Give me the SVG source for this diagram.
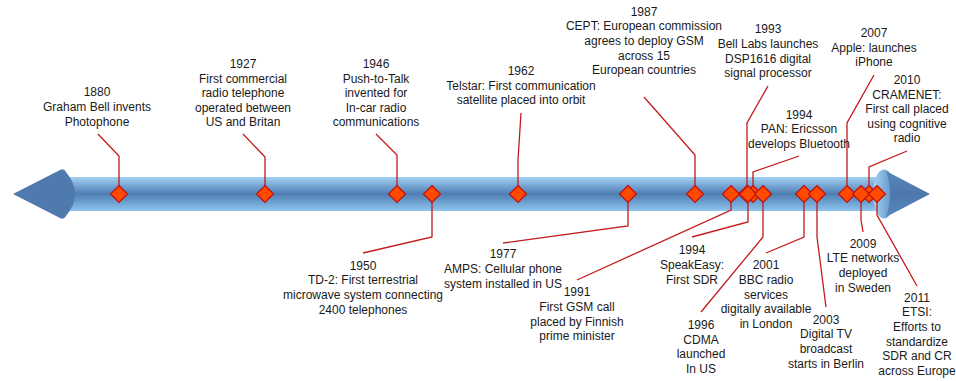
<svg xmlns="http://www.w3.org/2000/svg" xmlns:xlink="http://www.w3.org/1999/xlink" width="956" height="381" viewBox="0 0 956 381">
  <defs>
    <style>
      .lbl { font-family: "Liberation Sans", Arial, sans-serif; font-size: 12px; fill: #1a1a1a; text-anchor: middle; }
      .dia { fill: #ff4a00; stroke: #c01010; stroke-width: 1.2; stroke-linejoin: miter; }
      .conn { fill: none; stroke: #c41a1a; stroke-width: 1.3; }
      .head { fill: #4f7aad; }
    </style>
    <linearGradient id="barGrad" x1="0" y1="0" x2="0" y2="1">
      <stop offset="0" stop-color="#a3d1f2"/>
      <stop offset="0.5" stop-color="#4e7db3"/>
      <stop offset="1" stop-color="#8fc5ee"/>
    </linearGradient>
    <linearGradient id="capGrad" x1="0" y1="0" x2="1" y2="0">
      <stop offset="0" stop-color="#a6d3f3"/>
      <stop offset="1" stop-color="#5a8bc2"/>
    </linearGradient>
    <linearGradient id="coneGrad" x1="0" y1="0" x2="0" y2="1">
      <stop offset="0" stop-color="#5a87bb"/>
      <stop offset="0.5" stop-color="#4c78ac"/>
      <stop offset="1" stop-color="#5a87bb"/>
    </linearGradient>
    <path id="d" d="M0,-8.5 L8.5,0 L0,8.5 L-8.5,0 Z"/>
  </defs>

  <!-- timeline shaft with arrow heads -->
  <g id="timeline">
    <rect x="60" y="177" width="825" height="34" fill="url(#barGrad)"/>
    <path class="head" d="M13,194 L60,170 Q64,168 66,172 Q84,194 66,216 Q64,220 60,218 Z"/>
    <ellipse cx="884" cy="194" rx="11" ry="24.5" fill="url(#capGrad)"/>
    <path d="M886,171 L930,194 L886,217 Q894,194 886,171 Z" fill="url(#coneGrad)"/>
  </g>

  <!-- leader lines from each marker to its caption -->
  <g id="connectors">
    <path class="conn" d="M119,194 V156 L98,134"/>
    <path class="conn" d="M265,194 V157 L243,134"/>
    <path class="conn" d="M397,194 V155 L376,134"/>
    <path class="conn" d="M432,194 V237 L363,253"/>
    <path class="conn" d="M518,194 V160 L521,113"/>
    <path class="conn" d="M628,194 V226 L503,243"/>
    <path class="conn" d="M695,194 V155 L644,97"/>
    <path class="conn" d="M731,194 V210 L577,280"/>
    <path class="conn" d="M747,194 V123 L768,86"/>
    <path class="conn" d="M753,194 V172 L799,156"/>
    <path class="conn" d="M748,194 V222 L692,237"/>
    <path class="conn" d="M763,194 V237 L701,312"/>
    <path class="conn" d="M804,194 V237 L766,253"/>
    <path class="conn" d="M817,194 V237 L826,307"/>
    <path class="conn" d="M847,194 V123 L874,75"/>
    <path class="conn" d="M861,194 V220 L863,232"/>
    <path class="conn" d="M869,194 V167 L907,151"/>
    <path class="conn" d="M877,194 V215 L917,286"/>
  </g>

  <!-- events -->
  <g id="e1994pan">
    <use href="#d" class="dia" x="753" y="194"/>
    <text class="lbl" y="118.6"><tspan x="799">1994</tspan><tspan x="799" dy="14.7">PAN: Ericsson</tspan><tspan x="799" dy="14.7">develops Bluetooth</tspan></text>
  </g>
  <g id="e2010">
    <use href="#d" class="dia" x="869" y="194"/>
    <text class="lbl" y="84.3"><tspan x="907">2010</tspan><tspan x="907" dy="14.5">CRAMENET:</tspan><tspan x="907" dy="14.5">First call placed</tspan><tspan x="907" dy="14.5">using cognitive</tspan><tspan x="907" dy="14.5">radio</tspan></text>
  </g>
  <g id="e1880">
    <use href="#d" class="dia" x="119" y="194"/>
    <text class="lbl" y="96"><tspan x="97">1880</tspan><tspan x="97" dy="14.8">Graham Bell invents</tspan><tspan x="97" dy="14.8">Photophone</tspan></text>
  </g>
  <g id="e1927">
    <use href="#d" class="dia" x="265" y="194"/>
    <text class="lbl" y="68"><tspan x="243">1927</tspan><tspan x="243" dy="14.6">First commercial</tspan><tspan x="243" dy="14.6">radio telephone</tspan><tspan x="243" dy="14.6">operated between</tspan><tspan x="243" dy="14.6">US and Britan</tspan></text>
  </g>
  <g id="e1946">
    <use href="#d" class="dia" x="397" y="194"/>
    <text class="lbl" y="68"><tspan x="376">1946</tspan><tspan x="376" dy="14.6">Push-to-Talk</tspan><tspan x="376" dy="14.6">invented for</tspan><tspan x="376" dy="14.6">In-car radio</tspan><tspan x="376" dy="14.6">communications</tspan></text>
  </g>
  <g id="e1950">
    <use href="#d" class="dia" x="432" y="194"/>
    <text class="lbl" y="269.5"><tspan x="363">1950</tspan><tspan x="363" dy="14.7">TD-2: First terrestrial</tspan><tspan x="363" dy="14.7">microwave system connecting</tspan><tspan x="363" dy="14.7">2400 telephones</tspan></text>
  </g>
  <g id="e1962">
    <use href="#d" class="dia" x="518" y="194"/>
    <text class="lbl" y="75"><tspan x="521">1962</tspan><tspan x="521" dy="14.6">Telstar: First communication</tspan><tspan x="521" dy="14.6">satellite placed into orbit</tspan></text>
  </g>
  <g id="e1977">
    <use href="#d" class="dia" x="628" y="194"/>
    <text class="lbl" y="258"><tspan x="503">1977</tspan><tspan x="503" dy="14.8">AMPS: Cellular phone</tspan><tspan x="503" dy="14.8">system installed in US</tspan></text>
  </g>
  <g id="e1987">
    <use href="#d" class="dia" x="695" y="194"/>
    <text class="lbl" y="15.5"><tspan x="644">1987</tspan><tspan x="644" dy="14.7">CEPT: European commission</tspan><tspan x="644" dy="14.7">agrees to deploy GSM</tspan><tspan x="644" dy="14.7">across 15</tspan><tspan x="644" dy="14.7">European countries</tspan></text>
  </g>
  <g id="e1991">
    <use href="#d" class="dia" x="731" y="194"/>
    <text class="lbl" y="296"><tspan x="577">1991</tspan><tspan x="577" dy="14.8">First GSM call</tspan><tspan x="577" dy="14.8">placed by Finnish</tspan><tspan x="577" dy="14.8">prime minister</tspan></text>
  </g>
  <g id="e1993">
    <use href="#d" class="dia" x="747" y="194"/>
    <text class="lbl" y="33"><tspan x="768">1993</tspan><tspan x="768" dy="14.8">Bell Labs launches</tspan><tspan x="768" dy="14.8">DSP1616 digital</tspan><tspan x="768" dy="14.8">signal processor</tspan></text>
  </g>
  <g id="e1994sdr">
    <use href="#d" class="dia" x="748" y="194"/>
    <text class="lbl" y="254"><tspan x="692">1994</tspan><tspan x="692" dy="14.8">SpeakEasy:</tspan><tspan x="692" dy="14.8">First SDR</tspan></text>
  </g>
  <g id="e1996">
    <use href="#d" class="dia" x="763" y="194"/>
    <text class="lbl" y="329"><tspan x="701">1996</tspan><tspan x="701" dy="14.7">CDMA</tspan><tspan x="701" dy="14.7">launched</tspan><tspan x="701" dy="14.7">In US</tspan></text>
  </g>
  <g id="e2001">
    <use href="#d" class="dia" x="804" y="194"/>
    <text class="lbl" y="269"><tspan x="766">2001</tspan><tspan x="766" dy="14.8">BBC radio</tspan><tspan x="766" dy="14.8">services</tspan><tspan x="766" dy="14.8">digitally available</tspan><tspan x="766" dy="14.8">in London</tspan></text>
  </g>
  <g id="e2003">
    <use href="#d" class="dia" x="817" y="194"/>
    <text class="lbl" y="323.5"><tspan x="826">2003</tspan><tspan x="826" dy="14.7">Digital TV</tspan><tspan x="826" dy="14.7">broadcast</tspan><tspan x="826" dy="14.7">starts in Berlin</tspan></text>
  </g>
  <g id="e2007">
    <use href="#d" class="dia" x="847" y="194"/>
    <text class="lbl" y="36.8"><tspan x="874">2007</tspan><tspan x="874" dy="14.8">Apple: launches</tspan><tspan x="874" dy="14.8">iPhone</tspan></text>
  </g>
  <g id="e2009">
    <use href="#d" class="dia" x="861" y="194"/>
    <text class="lbl" y="247.7"><tspan x="863">2009</tspan><tspan x="863" dy="14.7">LTE networks</tspan><tspan x="863" dy="14.7">deployed</tspan><tspan x="863" dy="14.7">in Sweden</tspan></text>
  </g>
  <g id="e2011">
    <use href="#d" class="dia" x="877" y="194"/>
    <text class="lbl" y="301.5"><tspan x="917">2011</tspan><tspan x="917" dy="14.7">ETSI:</tspan><tspan x="917" dy="14.7">Efforts to</tspan><tspan x="917" dy="14.7">standardize</tspan><tspan x="917" dy="14.7">SDR and CR</tspan><tspan x="917" dy="14.7">across Europe</tspan></text>
  </g>
</svg>
